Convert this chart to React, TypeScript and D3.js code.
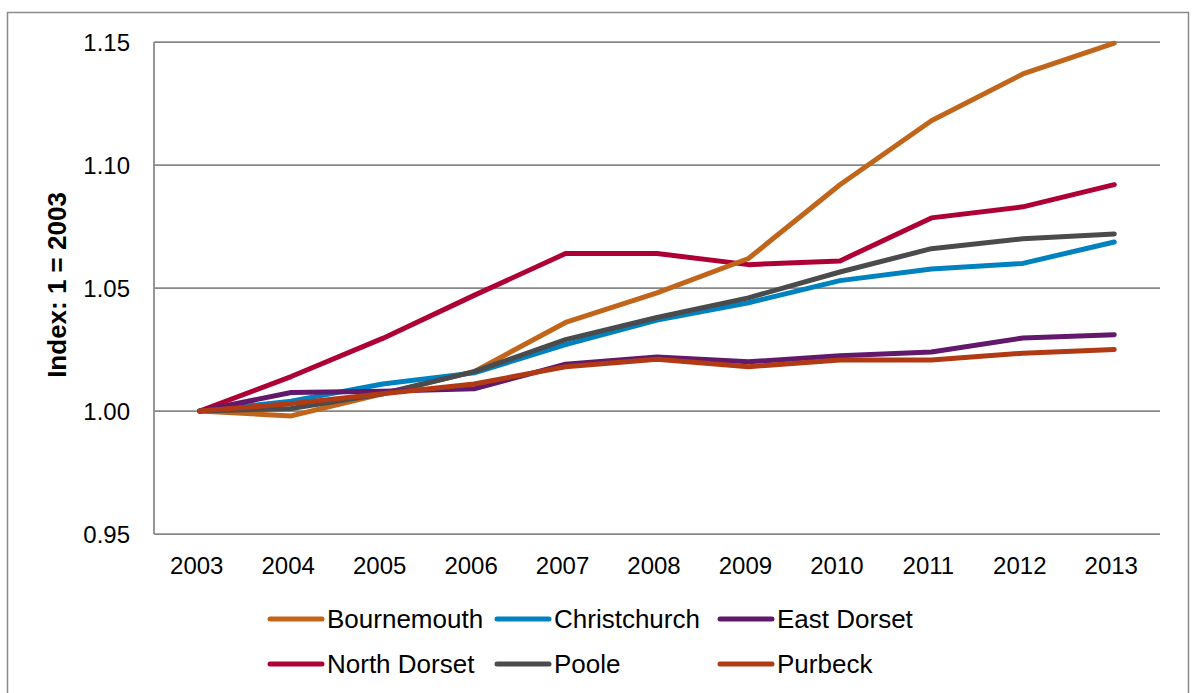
import React from 'react';
import * as d3 from 'd3';

const years = ['2003', '2004', '2005', '2006', '2007', '2008', '2009', '2010', '2011', '2012', '2013'];
const yTicks = [0.95, 1.0, 1.05, 1.1, 1.15];

const bournemouth = [1.0, 0.998, 1.007, 1.016, 1.036, 1.048, 1.062, 1.092, 1.118, 1.137, 1.1495];
const christchurch = [1.0, 1.004, 1.011, 1.0155, 1.027, 1.037, 1.044, 1.053, 1.0577, 1.06, 1.0687];
const eastDorset = [1.0, 1.0075, 1.008, 1.009, 1.019, 1.022, 1.02, 1.0225, 1.024, 1.0297, 1.031];
const northDorset = [1.0, 1.014, 1.0295, 1.047, 1.064, 1.064, 1.0595, 1.061, 1.0785, 1.083, 1.092];
const poole = [1.0, 1.001, 1.007, 1.016, 1.029, 1.038, 1.046, 1.0565, 1.066, 1.07, 1.072];
const purbeck = [1.0, 1.003, 1.007, 1.011, 1.018, 1.021, 1.018, 1.0207, 1.0207, 1.0235, 1.025];

const series = [
  { name: 'Bournemouth', values: bournemouth, color: '#C0651A' },
  { name: 'Christchurch', values: christchurch, color: '#0082C0' },
  { name: 'East Dorset', values: eastDorset, color: '#62196C' },
  { name: 'North Dorset', values: northDorset, color: '#AF0035' },
  { name: 'Poole', values: poole, color: '#4A4B4C' },
  { name: 'Purbeck', values: purbeck, color: '#B13A14' },
];

// draw order: last on top
const drawOrder = ['North Dorset', 'Bournemouth', 'Christchurch', 'Poole', 'East Dorset', 'Purbeck'];

const W = 1193;
const H = 693;
const plot = { left: 154, right: 1160, top: 42, bottom: 534 };
const font = '"Liberation Sans", Arial, sans-serif';
const gridColor = '#878787';

export default function App() {
  const x = d3.scaleBand().domain(years).range([plot.left, plot.right]);
  const y = d3.scaleLinear().domain([0.95, 1.15]).range([plot.bottom, plot.top]);
  const cx = (yr: string) => (x(yr) || 0) + x.bandwidth() / 2;

  const line = d3.line<number>()
    .x((_, i) => cx(years[i]))
    .y(d => y(d));

  const legendCols = [270, 497, 720];
  const legendRows = [619, 664];

  return (
    <svg width={W} height={H} style={{ position: 'absolute', left: 0, top: 0, background: '#fff' }}>
      <rect x={7.5} y={12.5} width={1181} height={700} fill="#fff" stroke="#8a8a8a" strokeWidth={1.5} />

      {/* gridlines */}
      {yTicks.map(t => (
        <line key={t} x1={plot.left} x2={plot.right} y1={y(t)} y2={y(t)} stroke={gridColor} strokeWidth={1.75} />
      ))}
      <line x1={plot.left} x2={plot.left} y1={plot.top} y2={plot.bottom} stroke={gridColor} strokeWidth={1.75} />

      {/* y labels */}
      {yTicks.map(t => (
        <text key={t} x={130} y={y(t)} dy="0.36em" textAnchor="end" fontFamily={font} fontSize={24} fill="#000">
          {t.toFixed(2)}
        </text>
      ))}

      {/* x labels */}
      {years.map(yr => (
        <text key={yr} x={cx(yr) - 3} y={565} dy="0.36em" textAnchor="middle" fontFamily={font} fontSize={24} fill="#000">
          {yr}
        </text>
      ))}

      <text
        transform={`translate(57, ${(plot.top + plot.bottom) / 2 - 3}) rotate(-90)`}
        textAnchor="middle"
        dy="0.36em"
        fontFamily={font}
        fontSize={26}
        fontWeight="bold"
        fill="#000"
      >
        Index: 1 = 2003
      </text>

      {/* lines */}
      {drawOrder.map(n => {
        const s = series.find(d => d.name === n)!;
        return (
          <path key={n} d={line(s.values) || ''} fill="none" stroke={s.color} strokeWidth={5}
            strokeLinejoin="round" strokeLinecap="round" />
        );
      })}

      {/* legend */}
      {series.map((s, i) => {
        const lx = legendCols[i % 3];
        const ly = legendRows[Math.floor(i / 3)];
        return (
          <g key={s.name}>
            <line x1={lx} x2={lx + 52} y1={ly} y2={ly} stroke={s.color} strokeWidth={5} strokeLinecap="round" />
            <text x={lx + 57} y={ly} dy="0.36em" fontFamily={font} fontSize={26} fill="#000">{s.name}</text>
          </g>
        );
      })}
    </svg>
  );
}
